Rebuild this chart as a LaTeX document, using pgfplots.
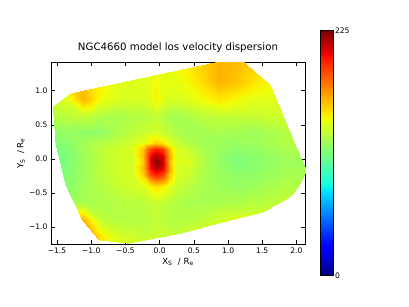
\documentclass[border=0pt]{standalone}
\usepackage{pgfplots}
\pgfplotsset{compat=1.18}
\usepackage{fontspec}
\setmainfont{DejaVu Sans}
\pgfplotstableread{
x y v
-1.75 -1.5 150
-1.5 -1.5 150
-1.25 -1.5 165
-1.0 -1.5 170
-0.75 -1.5 150
-0.5 -1.5 142
-0.3 -1.5 140
-0.18 -1.5 140
-0.1 -1.5 140
0.0 -1.5 140
0.1 -1.5 140
0.18 -1.5 140
0.3 -1.5 140
0.5 -1.5 140
0.75 -1.5 140
1.0 -1.5 140
1.25 -1.5 140
1.5 -1.5 140
1.75 -1.5 140
2.0 -1.5 140
2.25 -1.5 140
-1.75 -1.25 150
-1.5 -1.25 160
-1.25 -1.25 172
-1.0 -1.25 172
-0.75 -1.25 150
-0.5 -1.25 142
-0.3 -1.25 140
-0.18 -1.25 138
-0.1 -1.25 138
0.0 -1.25 138
0.1 -1.25 138
0.18 -1.25 138
0.3 -1.25 138
0.5 -1.25 140
0.75 -1.25 140
1.0 -1.25 140
1.25 -1.25 140
1.5 -1.25 140
1.75 -1.25 140
2.0 -1.25 140
2.25 -1.25 140
-1.75 -1.0 140
-1.5 -1.0 160
-1.25 -1.0 180
-1.0 -1.0 180
-0.75 -1.0 150
-0.5 -1.0 138
-0.3 -1.0 135
-0.18 -1.0 133
-0.1 -1.0 133
0.0 -1.0 133
0.1 -1.0 133
0.18 -1.0 133
0.3 -1.0 133
0.5 -1.0 135
0.75 -1.0 138
1.0 -1.0 140
1.25 -1.0 140
1.5 -1.0 140
1.75 -1.0 140
2.0 -1.0 140
2.25 -1.0 140
-1.75 -0.75 122
-1.5 -0.75 128
-1.25 -0.75 150
-1.0 -0.75 160
-0.75 -0.75 132
-0.5 -0.75 128
-0.3 -0.75 128
-0.18 -0.75 128
-0.1 -0.75 130
0.0 -0.75 132
0.1 -0.75 130
0.18 -0.75 128
0.3 -0.75 127
0.5 -0.75 128
0.75 -0.75 130
1.0 -0.75 135
1.25 -0.75 138
1.5 -0.75 138
1.75 -0.75 138
2.0 -0.75 138
2.25 -0.75 138
-1.75 -0.5 115
-1.5 -0.5 117
-1.25 -0.5 120
-1.0 -0.5 125
-0.75 -0.5 126
-0.5 -0.5 128
-0.3 -0.5 130
-0.18 -0.5 130
-0.1 -0.5 132
0.0 -0.5 134
0.1 -0.5 132
0.18 -0.5 130
0.3 -0.5 128
0.5 -0.5 125
0.75 -0.5 124
1.0 -0.5 125
1.25 -0.5 126
1.5 -0.5 128
1.75 -0.5 130
2.0 -0.5 132
2.25 -0.5 132
-1.75 -0.3 112
-1.5 -0.3 113
-1.25 -0.3 116
-1.0 -0.3 123
-0.75 -0.3 128
-0.5 -0.3 133
-0.3 -0.3 136
-0.18 -0.3 140
-0.1 -0.3 147
0.0 -0.3 152
0.1 -0.3 148
0.18 -0.3 140
0.3 -0.3 134
0.5 -0.3 130
0.75 -0.3 125
1.0 -0.3 122
1.25 -0.3 120
1.5 -0.3 122
1.75 -0.3 125
2.0 -0.3 128
2.25 -0.3 128
-1.75 -0.18 110
-1.5 -0.18 111
-1.25 -0.18 114
-1.0 -0.18 122
-0.75 -0.18 130
-0.5 -0.18 135
-0.3 -0.18 137
-0.18 -0.18 155
-0.1 -0.18 186
0.0 -0.18 196
0.1 -0.18 188
0.18 -0.18 158
0.3 -0.18 138
0.5 -0.18 135
0.75 -0.18 126
1.0 -0.18 121
1.25 -0.18 118
1.5 -0.18 119
1.75 -0.18 122
2.0 -0.18 125
2.25 -0.18 125
-1.75 -0.1 109
-1.5 -0.1 110
-1.25 -0.1 113
-1.0 -0.1 122
-0.75 -0.1 130
-0.5 -0.1 136
-0.3 -0.1 137
-0.18 -0.1 160
-0.1 -0.1 202
0.0 -0.1 215
0.1 -0.1 206
0.18 -0.1 166
0.3 -0.1 138
0.5 -0.1 137
0.75 -0.1 127
1.0 -0.1 120
1.25 -0.1 115
1.5 -0.1 117
1.75 -0.1 120
2.0 -0.1 124
2.25 -0.1 124
-1.75 0.0 108
-1.5 0.0 108
-1.25 0.0 112
-1.0 0.0 122
-0.75 0.0 130
-0.5 0.0 135
-0.3 0.0 136
-0.18 0.0 155
-0.1 0.0 204
0.0 0.0 225
0.1 0.0 210
0.18 0.0 162
0.3 0.0 138
0.5 0.0 140
0.75 0.0 128
1.0 0.0 120
1.25 0.0 113
1.5 0.0 116
1.75 0.0 119
2.0 0.0 122
2.25 0.0 122
-1.75 0.1 109
-1.5 0.1 110
-1.25 0.1 113
-1.0 0.1 122
-0.75 0.1 130
-0.5 0.1 136
-0.3 0.1 137
-0.18 0.1 160
-0.1 0.1 202
0.0 0.1 215
0.1 0.1 206
0.18 0.1 166
0.3 0.1 138
0.5 0.1 138
0.75 0.1 127
1.0 0.1 120
1.25 0.1 115
1.5 0.1 117
1.75 0.1 120
2.0 0.1 124
2.25 0.1 124
-1.75 0.18 110
-1.5 0.18 111
-1.25 0.18 114
-1.0 0.18 122
-0.75 0.18 130
-0.5 0.18 135
-0.3 0.18 138
-0.18 0.18 157
-0.1 0.18 188
0.0 0.18 198
0.1 0.18 190
0.18 0.18 160
0.3 0.18 138
0.5 0.18 135
0.75 0.18 126
1.0 0.18 121
1.25 0.18 118
1.5 0.18 119
1.75 0.18 122
2.0 0.18 125
2.25 0.18 125
-1.75 0.3 112
-1.5 0.3 113
-1.25 0.3 116
-1.0 0.3 123
-0.75 0.3 128
-0.5 0.3 132
-0.3 0.3 136
-0.18 0.3 141
-0.1 0.3 149
0.0 0.3 155
0.1 0.3 150
0.18 0.3 141
0.3 0.3 134
0.5 0.3 128
0.75 0.3 124
1.0 0.3 122
1.25 0.3 120
1.5 0.3 122
1.75 0.3 125
2.0 0.3 128
2.25 0.3 128
-1.75 0.5 116
-1.5 0.5 118
-1.25 0.5 120
-1.0 0.5 118
-0.75 0.5 118
-0.5 0.5 126
-0.3 0.5 130
-0.18 0.5 133
-0.1 0.5 135
0.0 0.5 137
0.1 0.5 133
0.18 0.5 130
0.3 0.5 126
0.5 0.5 124
0.75 0.5 124
1.0 0.5 125
1.25 0.5 124
1.5 0.5 122
1.75 0.5 125
2.0 0.5 128
2.25 0.5 128
-1.75 0.75 125
-1.5 0.75 128
-1.25 0.75 130
-1.0 0.75 133
-0.75 0.75 126
-0.5 0.75 125
-0.3 0.75 127
-0.18 0.75 128
-0.1 0.75 130
0.0 0.75 132
0.1 0.75 128
0.18 0.75 126
0.3 0.75 124
0.5 0.75 126
0.75 0.75 130
1.0 0.75 132
1.25 0.75 132
1.5 0.75 133
1.75 0.75 135
2.0 0.75 135
2.25 0.75 135
-1.75 1.0 135
-1.5 1.0 136
-1.25 1.0 140
-1.0 1.0 162
-0.75 1.0 145
-0.5 1.0 138
-0.3 1.0 138
-0.18 1.0 138
-0.1 1.0 140
0.0 1.0 148
0.1 1.0 140
0.18 1.0 138
0.3 1.0 138
0.5 1.0 140
0.75 1.0 145
1.0 1.0 150
1.25 1.0 145
1.5 1.0 140
1.75 1.0 140
2.0 1.0 140
2.25 1.0 140
-1.75 1.25 140
-1.5 1.25 140
-1.25 1.25 145
-1.0 1.25 158
-0.75 1.25 148
-0.5 1.25 140
-0.3 1.25 140
-0.18 1.25 140
-0.1 1.25 140
0.0 1.25 145
0.1 1.25 142
0.18 1.25 142
0.3 1.25 142
0.5 1.25 145
0.75 1.25 152
1.0 1.25 162
1.25 1.25 158
1.5 1.25 150
1.75 1.25 145
2.0 1.25 145
2.25 1.25 145
-1.75 1.5 140
-1.5 1.5 145
-1.25 1.5 150
-1.0 1.5 155
-0.75 1.5 145
-0.5 1.5 140
-0.3 1.5 140
-0.18 1.5 140
-0.1 1.5 140
0.0 1.5 142
0.1 1.5 142
0.18 1.5 142
0.3 1.5 145
0.5 1.5 148
0.75 1.5 155
1.0 1.5 162
1.25 1.5 160
1.5 1.5 155
1.75 1.5 150
2.0 1.5 150
2.25 1.5 150
}\dispmap
\begin{document}
\begin{tikzpicture}
\useasboundingbox (0,0) rectangle (409pt,307pt);
\begin{axis}[
  at={(51pt,62.7pt)}, anchor=south west,
  width=254pt, height=182pt, scale only axis,
  xmin=-1.588, xmax=2.125, ymin=-1.25, ymax=1.415,
  xtick={-1.5,-1,-0.5,0,0.5,1,1.5,2},
  xticklabels={−1.5,−1.0,−0.5,0.0,0.5,1.0,1.5,2.0},
  ytick={-1,-0.5,0,0.5,1},
  yticklabels={−1.0,−0.5,0.0,0.5,1.0},
  tick align=inside, major tick length=4pt,
  tick style={black, line width=0.5pt},
  axis line style={black, line width=0.7pt},
  tick label style={font=\fontsize{7.6}{9}\selectfont},
  title={NGC4660 model los velocity dispersion},
  title style={at={(axis description cs:0.5,1.049)}, anchor=center, font=\fontsize{10.2}{12}\selectfont},
  xlabel={X\textsubscript{S}\ \ / R\textsubscript{e}},
  ylabel={Y\textsubscript{S}\ \ / R\textsubscript{e}},
  xlabel style={at={(axis description cs:0.5,-0.096)}, anchor=center, font=\fontsize{8.6}{10}\selectfont},
  ylabel style={at={(axis description cs:-0.118,0.5)}, anchor=center, font=\fontsize{8.6}{10}\selectfont},
  colormap={mpljet}{rgb(0pt)=(0,0,0.5) rgb(11pt)=(0,0,1) rgb(12.5pt)=(0,0,1) rgb(34pt)=(0,0.86,1) rgb(35pt)=(0,0.9,0.968) rgb(37.5pt)=(0.081,1,0.887) rgb(64pt)=(0.935,1,0.032) rgb(65pt)=(0.968,0.963,0) rgb(66pt)=(1,0.926,0) rgb(89pt)=(1,0.074,0) rgb(91pt)=(0.909,0,0) rgb(100pt)=(0.5,0,0)},
  point meta min=0, point meta max=225,
  colorbar,
  colorbar style={
    at={(parent axis.east)}, anchor=west, xshift=7pt,
    scale only axis, width=13pt, height=245pt,
    ytick={0,225}, yticklabels={0,225},
    major tick length=0pt,
    axis line style={black, line width=0.7pt},
    yticklabel style={font=\fontsize{7.6}{9}\selectfont, xshift=-2pt},
  },
]
\begin{scope}
\clip (axis cs:-1.564,0.766) -- (axis cs:-1.306,0.962) -- (axis cs:0.327,1.313)
  -- (axis cs:1.15,1.49) -- (axis cs:1.618,1.083) -- (axis cs:1.984,0.205)
  -- (axis cs:2.145,-0.161) -- (axis cs:2.105,-0.259) -- (axis cs:2.032,-0.406)
  -- (axis cs:1.911,-0.552) -- (axis cs:1.520,-0.772) -- (axis cs:1.034,-0.894)
  -- (axis cs:0.303,-1.088) -- (axis cs:-0.453,-1.234) -- (axis cs:-0.892,-1.186)
  -- (axis cs:-1.135,-0.893) -- (axis cs:-1.379,-0.38) -- (axis cs:-1.525,0.23) -- cycle;
\addplot[matrix plot*, shader=interp, mesh/cols=21, point meta=explicit]
  table[x=x, y=y, meta=v] {\dispmap};
\end{scope}
\end{axis}
\end{tikzpicture}
\end{document}
